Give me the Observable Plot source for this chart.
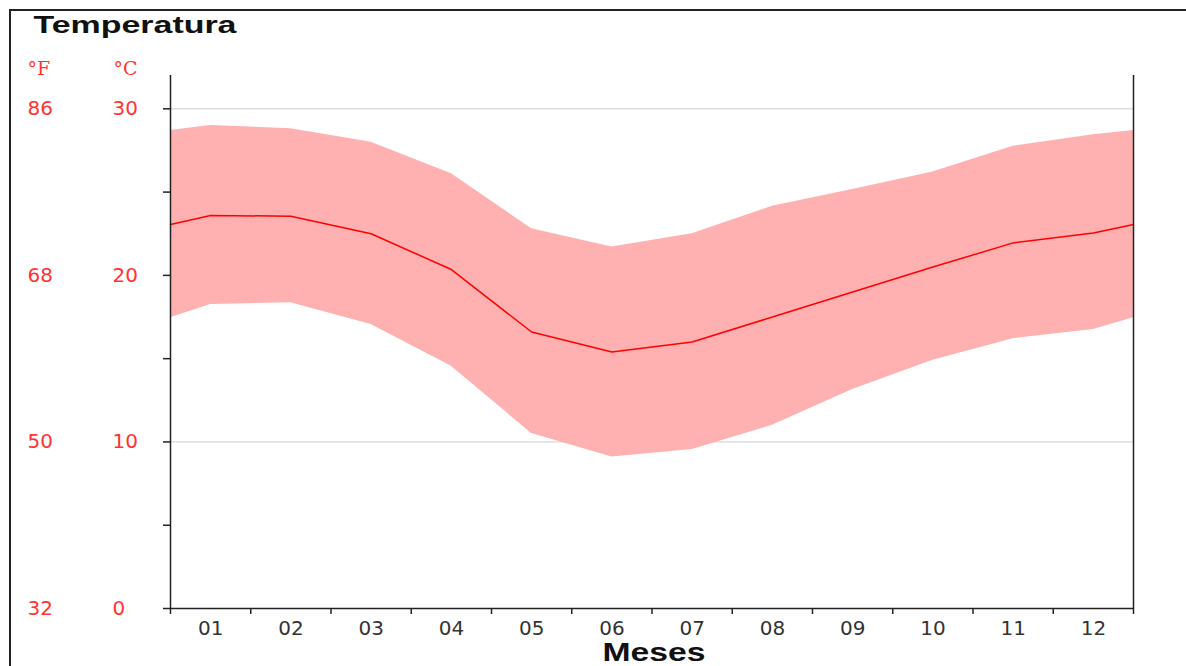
<!DOCTYPE html>
<html>
<head>
<meta charset="utf-8">
<script src="https://cdn.jsdelivr.net/npm/d3@7"></script>
<script src="https://cdn.jsdelivr.net/npm/@observablehq/plot@0.6"></script>
<style>
  html, body { margin: 0; padding: 0; background: #fff; overflow: hidden; }
  #wrap { position: relative; width: 1186px; height: 666px; }
  #frame { position: absolute; left: 9px; top: 9px; width: 1200px; height: 700px;
           border-top: 2px solid #222; border-left: 2px solid #222; pointer-events: none; }
  svg { display: block; }
</style>
</head>
<body>
<div id="wrap"><div id="frame"></div></div>
<script>
// Month labels
const meses = ["01","02","03","04","05","06","07","08","09","10","11","12"];
// Mean temperature (°C)
const media  = [23.6, 23.55, 22.5, 20.35, 16.6, 15.4, 16.0, 17.5, 19.0, 20.5, 21.95, 22.55];
// Upper limit of band (°C)
const maxima = [29.0, 28.8, 28.0, 26.1, 22.8, 21.7, 22.5, 24.15, 25.15, 26.2, 27.75, 28.45];
// Lower limit of band (°C)
const minima = [18.25, 18.35, 17.05, 14.55, 10.5, 9.1, 9.55, 11.0, 13.15, 14.9, 16.2, 16.75];
// Values read at the left/right edges of the plot (year boundary)
const bordeMedia = 23.05, bordeMax = 28.7, bordeMin = 17.45;
// Y-axis tick labels
const ticksC = [0, 10, 20, 30];
const ticksF = ["32", "50", "68", "86"];
const ticksMenores = [0, 5, 10, 15, 20, 25, 30];

const rows = [
  {x: 0.5, media: bordeMedia, max: bordeMax, min: bordeMin},
  ...meses.map((m, i) => ({x: i + 1, media: media[i], max: maxima[i], min: minima[i]})),
  {x: 12.5, media: bordeMedia, max: bordeMax, min: bordeMin}
];
const limites = d3.range(0.5, 13, 1);
const red = "#ff3333";
const sans = "DejaVu Sans, sans-serif";

const chart = Plot.plot({
  width: 1186,
  height: 666,
  marginLeft: 170,
  marginRight: 53,
  marginTop: 75,
  marginBottom: 58,
  style: {background: "transparent", overflow: "visible", fontFamily: sans},
  x: {type: "linear", domain: [0.5, 12.5], axis: null, label: null},
  y: {domain: [0, 32], axis: null, label: null},
  marks: [
    Plot.ruleY([10, 20, 30], {stroke: "#cccccc", strokeWidth: 1}),
    Plot.areaY(rows, {x: "x", y1: "min", y2: "max", fill: "#ffb0b0", fillOpacity: 1}),
    Plot.lineY(rows, {x: "x", y: "media", stroke: "#ff0000", strokeWidth: 1.5}),
    Plot.ruleY([0], {stroke: "#222", strokeWidth: 1.5}),
    Plot.ruleX([0.5, 12.5], {stroke: "#222", strokeWidth: 1.5}),
    Plot.axisY(ticksMenores, {tickSize: 7, tickFormat: () => "", label: null, stroke: "#222", strokeWidth: 1.5}),
    Plot.axisX(limites, {tickSize: 6, tickFormat: () => "", label: null, stroke: "#222", strokeWidth: 1.5}),
    // °C labels
    Plot.text(ticksC, {y: d => d, text: d => String(d), frameAnchor: "left", dx: -58,
      textAnchor: "start", fill: red, fontSize: 20, fontFamily: sans}),
    // °F labels
    Plot.text(ticksC, {y: d => d, text: (d, i) => ticksF[i], frameAnchor: "left", dx: -143,
      textAnchor: "start", fill: red, fontSize: 20, fontFamily: sans}),
    // unit headers
    Plot.text(["°F"], {frameAnchor: "top-left", dx: -143, dy: -7, lineAnchor: "middle",
      textAnchor: "start", fill: red, fontSize: 19, fontFamily: "DejaVu Serif, serif", letterSpacing: 2}),
    Plot.text(["°C"], {frameAnchor: "top-left", dx: -57, dy: -7, lineAnchor: "middle",
      textAnchor: "start", fill: red, fontSize: 19, fontFamily: "DejaVu Serif, serif", letterSpacing: 2}),
    // month labels
    Plot.text(meses, {x: (d, i) => i + 1, text: d => d, frameAnchor: "bottom", lineAnchor: "top",
      dy: 12, fill: "#333", fontSize: 20, fontFamily: sans}),
    // axis title
    Plot.text(["Meses"], {frameAnchor: "bottom", lineAnchor: "top", dy: 35, dx: 2,
      fill: "#111", fontSize: 25, fontWeight: "bold", fontFamily: "Liberation Sans, Arial, sans-serif"}),
    // chart title
    Plot.text(["Temperatura"], {frameAnchor: "top-left", dx: -137, dy: -60, lineAnchor: "top",
      textAnchor: "start", fill: "#111", fontSize: 24, fontWeight: "bold",
      fontFamily: "Liberation Sans, Arial, sans-serif"})
  ]
});

// stretch the bold titles horizontally like the reference
d3.select(chart).selectAll("text").each(function() {
  const t = this.textContent;
  if (t === "Temperatura") { this.setAttribute("textLength", 203); this.setAttribute("lengthAdjust", "spacingAndGlyphs"); }
  if (t === "Meses") { this.setAttribute("textLength", 103); this.setAttribute("lengthAdjust", "spacingAndGlyphs"); }
});

document.getElementById("wrap").prepend(chart);
</script>
</body>
</html>
